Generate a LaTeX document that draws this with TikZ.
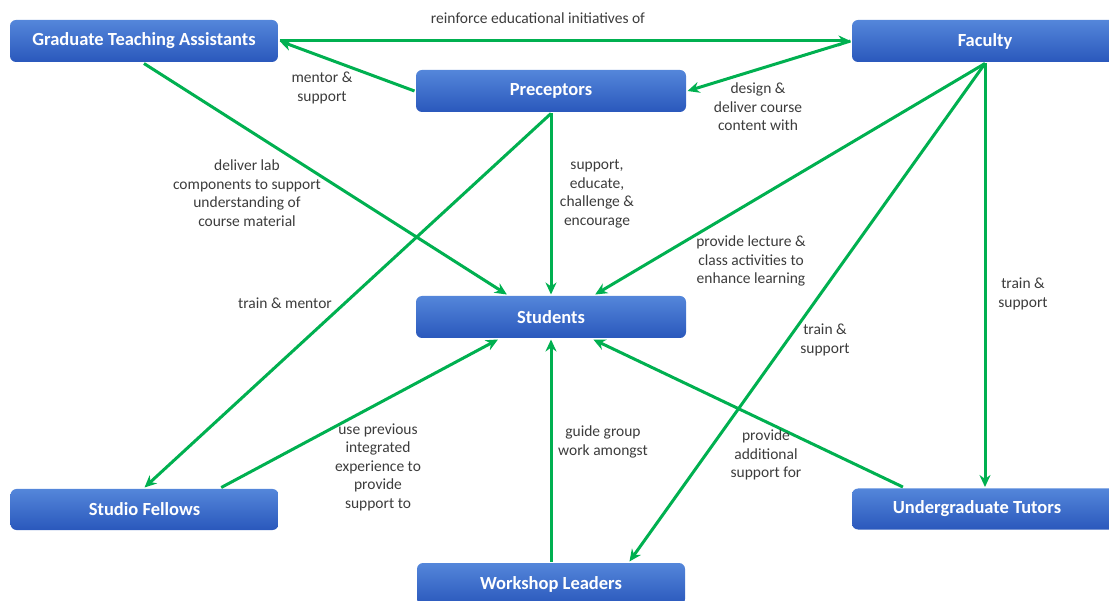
\documentclass[tikz,border=0pt]{standalone}
\usepackage{fontspec}
\setmainfont{Carlito}
\usetikzlibrary{arrows.meta, positioning}

\definecolor{linegreen}{RGB}{0,176,80}
\definecolor{boxtop}{RGB}{84,134,218}
\definecolor{boxbot}{RGB}{42,88,188}
\definecolor{labelgray}{RGB}{60,60,60}

\begin{document}
\begin{tikzpicture}[> = {Stealth[length = 12pt, width = 11pt]}, % arrow head style
                x = 1pt, y = -1pt, % pixel grid, y pointing down
                line width = 3pt % line style
            ]

            \tikzstyle{every node}=[font = \fontsize{15.5}{18.5}\selectfont]
            \tikzstyle{role}=[rectangle, rounded corners = 6pt, top color = boxtop,
            bottom color = boxbot, text = white, inner sep = 0pt,
            font = \fontsize{18.5}{22}\selectfont\bfseries,
            minimum width = 268pt, minimum height = 42pt]
            \tikzstyle{note}=[align = center, text = labelgray, inner sep = 0pt]
            \tikzstyle{link}=[color = linegreen, ->]

            \useasboundingbox (0,0) rectangle (1109,601);
            \clip (0,0) rectangle (1109,601);

            \node[role] (gta) at (144,41) {Graduate Teaching Assistants};
            \node[role, minimum width = 266pt] (fac) at (985,41) {Faculty};
            \node[role, minimum width = 270pt] (pre) at (551,91) {Preceptors};
            \node[role, minimum width = 270pt] (stu) at (551,317) {Students};
            \node[role, minimum height = 41pt] (sf) at (144.5,509.5) {Studio Fellows};
            \node[role] (wl) at (551,584) {Workshop Leaders};
            \node[role, minimum width = 266pt, minimum height = 41pt] (ut) at (985,509)
            {\hspace*{-16pt}Undergraduate Tutors};

            \path[link] (gta.east) edge (fac.west); \path[link] (pre.west) edge
            (gta.east); \path[link] (fac.west) edge (pre.east);
            \path[link] (gta.south) edge (stu.153); \path[link] (pre.south) edge
            (stu.north); \path[link] (pre.south) edge (sf.north);
            \path[link] (fac.south) edge (stu.27); \path[link] (fac.south) edge
            (wl.16); \path[link] (fac.south) edge (ut.north);
            \path[link] (sf.16) edge (stu.203); \path[link] (wl.north) edge
            (stu.south); \path[link] (ut.165) edge (stu.-28);

            % edge labels
            \node[note] (l1) at (538,18) {reinforce educational initiatives of};
            \node[note] (l2) at (322,88) {mentor \&\\support};
            \node[note] (l3) at (758,107) {design \&\\deliver course\\content with};
            \node[note] (l4) at (247,193) {deliver lab\\components to support\\understanding of\\course material};
            \node[note] (l5) at (597,194) {support,\\educate,\\challenge \&\\encourage};
            \node[note] (l6) at (285,303) {train \& mentor};
            \node[note] (l7) at (751,261) {provide lecture \&\\class activities to\\enhance learning};
            \node[note] (l8) at (825,340) {train \&\\support};
            \node[note] (l9) at (1023,294) {train \&\\support};
            \node[note] (l10) at (378,467) {use previous\\integrated\\experience to\\provide\\support to};
            \node[note] (l11) at (603,442) {guide group\\work amongst};
            \node[note] (l12) at (766,455) {provide\\additional\\support for};
        \end{tikzpicture}
\end{document}
